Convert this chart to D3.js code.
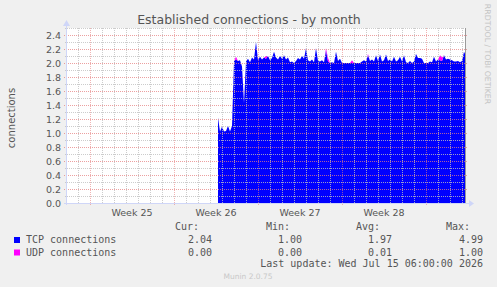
<!DOCTYPE html>
<html>
<head>
<meta charset="utf-8">
<script src="https://cdn.jsdelivr.net/npm/d3@7"></script>
<style>
  html, body { margin: 0; padding: 0; background: #f0f0f0; }
  svg { display: block; }
  text { font-family: 'DejaVu Sans', sans-serif; fill: #555; }
  .mono { font-family: 'DejaVu Sans Mono', monospace; font-size: 10px; }
</style>
</head>
<body>
<svg width="497" height="287"></svg>
<script>
'use strict';

// samples every 4 hours, starting at the first sample with data
const sampleStart = Date.UTC(2026, 5, 25, 16);
const sampleStep = 4 * 3600 * 1000;

const tcp = [
  1.22, 1.02, 1.09, 1.02, 1.03, 1.10, 1.02, 1.10, 2.03, 2.05,
  2.03, 2.04, 1.95, 1.43, 2.02, 2.06, 2.01, 2.08, 2.05, 2.30,
  2.04, 2.09, 2.05, 2.08, 2.06, 2.10, 2.04, 2.07, 2.16, 2.08,
  2.05, 2.10, 2.06, 2.11, 2.05, 2.08, 2.01, 2.02, 2.00, 2.03,
  2.07, 2.05, 2.10, 2.06, 2.21, 2.04, 2.02, 2.05, 2.01, 2.21,
  2.03, 2.02, 2.04, 2.01, 2.18, 2.02, 2.00, 2.01, 2.00, 2.16,
  2.03, 2.06, 2.00, 2.00, 2.00, 2.00, 2.00, 2.00, 2.00, 2.00,
  2.00, 2.00, 2.02, 2.04, 2.02, 2.11, 2.03, 2.05, 2.02, 2.11,
  2.03, 2.12, 2.02, 2.04, 2.12, 2.03, 2.05, 2.02, 2.09, 2.02,
  2.04, 2.09, 2.02, 2.11, 2.01, 2.00, 2.03, 2.00, 2.02, 2.13,
  2.07, 2.07, 2.06, 2.00, 2.00, 2.00, 2.02, 2.01, 2.09, 2.02,
  2.05, 2.04, 2.03, 2.11, 2.05, 2.06, 2.05, 2.04, 2.02, 2.02,
  2.03, 2.01, 2.03, 2.16, 2.10
];

const udp = [
  0.00, 0.00, 0.00, 0.00, 0.00, 0.00, 0.00, 0.00, 0.00, 0.04,
  0.00, 0.00, 0.00, 0.00, 0.00, 0.00, 0.00, 0.00, 0.00, 0.00,
  0.00, 0.00, 0.00, 0.00, 0.04, 0.00, 0.00, 0.00, 0.00, 0.00,
  0.00, 0.00, 0.00, 0.00, 0.00, 0.00, 0.00, 0.00, 0.00, 0.00,
  0.00, 0.00, 0.00, 0.00, 0.00, 0.00, 0.00, 0.00, 0.00, 0.00,
  0.00, 0.00, 0.00, 0.00, 0.03, 0.05, 0.00, 0.00, 0.00, 0.00,
  0.00, 0.00, 0.00, 0.00, 0.00, 0.00, 0.00, 0.04, 0.00, 0.00,
  0.00, 0.00, 0.00, 0.00, 0.00, 0.02, 0.00, 0.00, 0.00, 0.00,
  0.00, 0.00, 0.00, 0.00, 0.00, 0.00, 0.00, 0.00, 0.00, 0.00,
  0.00, 0.00, 0.00, 0.00, 0.00, 0.00, 0.00, 0.00, 0.00, 0.00,
  0.00, 0.00, 0.00, 0.00, 0.00, 0.00, 0.00, 0.00, 0.00, 0.00,
  0.00, 0.07, 0.05, 0.00, 0.00, 0.00, 0.00, 0.00, 0.00, 0.00,
  0.00, 0.00, 0.00, 0.00, 0.00
];

const seriesNames = ['TCP connections', 'UDP connections'];
const seriesColors = ['#0000ff', '#ff00ff'];
const statHeaders = ['Cur:', 'Min:', 'Avg:', 'Max:'];
const statValues = [
  ['2.04', '1.00', '1.97', '4.99'],
  ['0.00', '0.00', '0.01', '1.00']
];
const yTicks = [0, 0.2, 0.4, 0.6, 0.8, 1.0, 1.2, 1.4, 1.6, 1.8, 2.0, 2.2, 2.4];

const title = 'Established connections - by month';
const yLabel = 'connections';
const lastUpdate = 'Last update: Wed Jul 15 06:00:00 2026';
const footer = 'Munin 2.0.75';
const watermark = 'RRDTOOL / TOBI OETIKER';

const svg = d3.select('svg');
const plotLeft = 66, plotRight = 466, plotTop = 28, plotBottom = 203;

const x = d3.scaleUtc()
  .domain([Date.UTC(2026, 5, 13), Date.UTC(2026, 6, 16, 8)])
  .range([plotLeft, plotRight]);
const y = d3.scaleLinear()
  .domain([0, 2.5])
  .range([plotBottom, plotTop]);

const data = tcp.map((v, i) => ({ t: sampleStart + i * sampleStep, tcp: v, udp: udp[i] }));

svg.append('rect')
  .attr('x', plotLeft)
  .attr('y', plotTop)
  .attr('width', plotRight - plotLeft)
  .attr('height', plotBottom - plotTop)
  .attr('fill', '#fff');

svg.append('path')
  .datum(data)
  .attr('fill', seriesColors[0])
  .attr('d', d3.area()
    .x(d => x(d.t))
    .y0(y(0))
    .y1(d => y(d.tcp)));

svg.append('path')
  .datum(data)
  .attr('fill', seriesColors[1])
  .attr('d', d3.area()
    .x(d => x(d.t))
    .y0(d => y(d.tcp))
    .y1(d => y(d.tcp + d.udp)));

// grid on top of the data, like rrdtool
const grid = svg.append('g');
const minorY = d3.range(0, 26).map(i => i / 10).filter(v => Math.round(v * 10) % 2 == 1);
grid.selectAll('.minor-y')
  .data(minorY)
  .enter().append('line')
    .attr('x1', plotLeft - 1)
    .attr('x2', plotRight + 1)
    .attr('y1', d => Math.round(y(d)) + 0.5)
    .attr('y2', d => Math.round(y(d)) + 0.5)
    .attr('stroke', 'rgba(191,191,191,0.8)')
    .attr('stroke-dasharray', '1,1');
const days = d3.utcDay.range(x.domain()[0], x.domain()[1]).filter(d => d.getUTCDay() != 1 && x(d) > plotLeft);
grid.selectAll('.minor-x')
  .data(days)
  .enter().append('line')
    .attr('x1', d => Math.round(x(d)) + 0.5)
    .attr('x2', d => Math.round(x(d)) + 0.5)
    .attr('y1', plotTop)
    .attr('y2', plotBottom + 1)
    .attr('stroke', 'rgba(191,191,191,0.8)')
    .attr('stroke-dasharray', '1,1');
grid.selectAll('.major-y')
  .data(yTicks.filter(v => v > 0))
  .enter().append('line')
    .attr('x1', plotLeft - 2)
    .attr('x2', plotRight + 2)
    .attr('y1', d => Math.round(y(d)) + 0.5)
    .attr('y2', d => Math.round(y(d)) + 0.5)
    .attr('stroke', 'rgba(230,128,128,0.75)')
    .attr('stroke-dasharray', '1,1');
const weeks = d3.utcMonday.range(x.domain()[0], x.domain()[1]);
grid.selectAll('.major-x')
  .data(weeks)
  .enter().append('line')
    .attr('x1', d => Math.round(x(d)) + 0.5)
    .attr('x2', d => Math.round(x(d)) + 0.5)
    .attr('y1', plotTop)
    .attr('y2', plotBottom + 2)
    .attr('stroke', 'rgba(230,128,128,0.6)')
    .attr('stroke-dasharray', '1,1');

// edge of the data
svg.append('line')
  .attr('x1', plotRight - 0.5)
  .attr('x2', plotRight - 0.5)
  .attr('y1', plotTop)
  .attr('y2', plotBottom)
  .attr('stroke', '#9a9a9a');

// axes with arrows
const axisColor = '#cfd6f8';
svg.append('line')
  .attr('x1', plotLeft - 2).attr('x2', plotRight + 4)
  .attr('y1', plotBottom + 0.5).attr('y2', plotBottom + 0.5)
  .attr('stroke', axisColor);
svg.append('line')
  .attr('x1', plotLeft + 0.5).attr('x2', plotLeft + 0.5)
  .attr('y1', plotBottom + 2).attr('y2', plotTop - 5)
  .attr('stroke', axisColor);
svg.append('path')
  .attr('d', `M${plotRight + 3},${plotBottom - 3}L${plotRight + 8},${plotBottom + 0.5}L${plotRight + 3},${plotBottom + 4}Z`)
  .attr('fill', axisColor);
svg.append('path')
  .attr('d', `M${plotLeft - 3},${plotTop - 2}L${plotLeft + 0.5},${plotTop - 8}L${plotLeft + 4},${plotTop - 2}Z`)
  .attr('fill', axisColor);

// tick labels
svg.append('g')
  .selectAll('text')
  .data(yTicks)
  .enter().append('text')
    .attr('x', plotLeft - 5)
    .attr('y', d => y(d) + 3.5)
    .attr('text-anchor', 'end')
    .style('font-size', '9.5px')
    .text(d => d.toFixed(1));

svg.append('g')
  .selectAll('text')
  .data(weeks.filter(d => x(d.getTime() + 3.5 * 864e5) < plotRight))
  .enter().append('text')
    .attr('x', d => x(d.getTime() + 3.5 * 864e5))
    .attr('y', plotBottom + 13)
    .attr('text-anchor', 'middle')
    .style('font-size', '9.5px')
    .text(d => 'Week ' + d3.utcFormat('%V')(d));

svg.append('text')
  .attr('x', 249)
  .attr('y', 24)
  .attr('text-anchor', 'middle')
  .style('font-size', '12.5px')
  .text(title);

svg.append('text')
  .attr('transform', 'translate(15,118) rotate(-90)')
  .attr('text-anchor', 'middle')
  .style('font-size', '10px')
  .text(yLabel);

svg.append('text')
  .attr('transform', 'translate(485,54) rotate(90)')
  .attr('text-anchor', 'middle')
  .style('font-size', '7.8px')
  .style('fill', '#c4c4c4')
  .text(watermark);

// legend
const headerX = [199, 290, 380, 470];
const valueX = [212, 302, 392, 483];
const legend = svg.append('g');
legend.selectAll('.head')
  .data(statHeaders)
  .enter().append('text')
    .attr('class', 'mono')
    .attr('x', (d, i) => headerX[i])
    .attr('y', 230)
    .attr('text-anchor', 'end')
    .text(d => d);

seriesNames.forEach((name, r) => {
  const rowY = 243 + r * 12.5;
  legend.append('rect')
    .attr('x', 14)
    .attr('y', rowY - 6)
    .attr('width', 6)
    .attr('height', 6)
    .attr('fill', seriesColors[r]);
  legend.append('text')
    .attr('class', 'mono')
    .attr('x', 26)
    .attr('y', rowY)
    .text(name);
  legend.selectAll('.v' + r)
    .data(statValues[r])
    .enter().append('text')
      .attr('class', 'mono')
      .attr('x', (d, i) => valueX[i])
      .attr('y', rowY)
      .attr('text-anchor', 'end')
      .text(d => d);
});

legend.append('text')
  .attr('class', 'mono')
  .attr('x', 483)
  .attr('y', 267)
  .attr('text-anchor', 'end')
  .text(lastUpdate);

svg.append('text')
  .attr('x', 248)
  .attr('y', 279)
  .attr('text-anchor', 'middle')
  .style('font-size', '7.5px')
  .style('fill', '#c8c8c8')
  .text(footer);
</script>
</body>
</html>
